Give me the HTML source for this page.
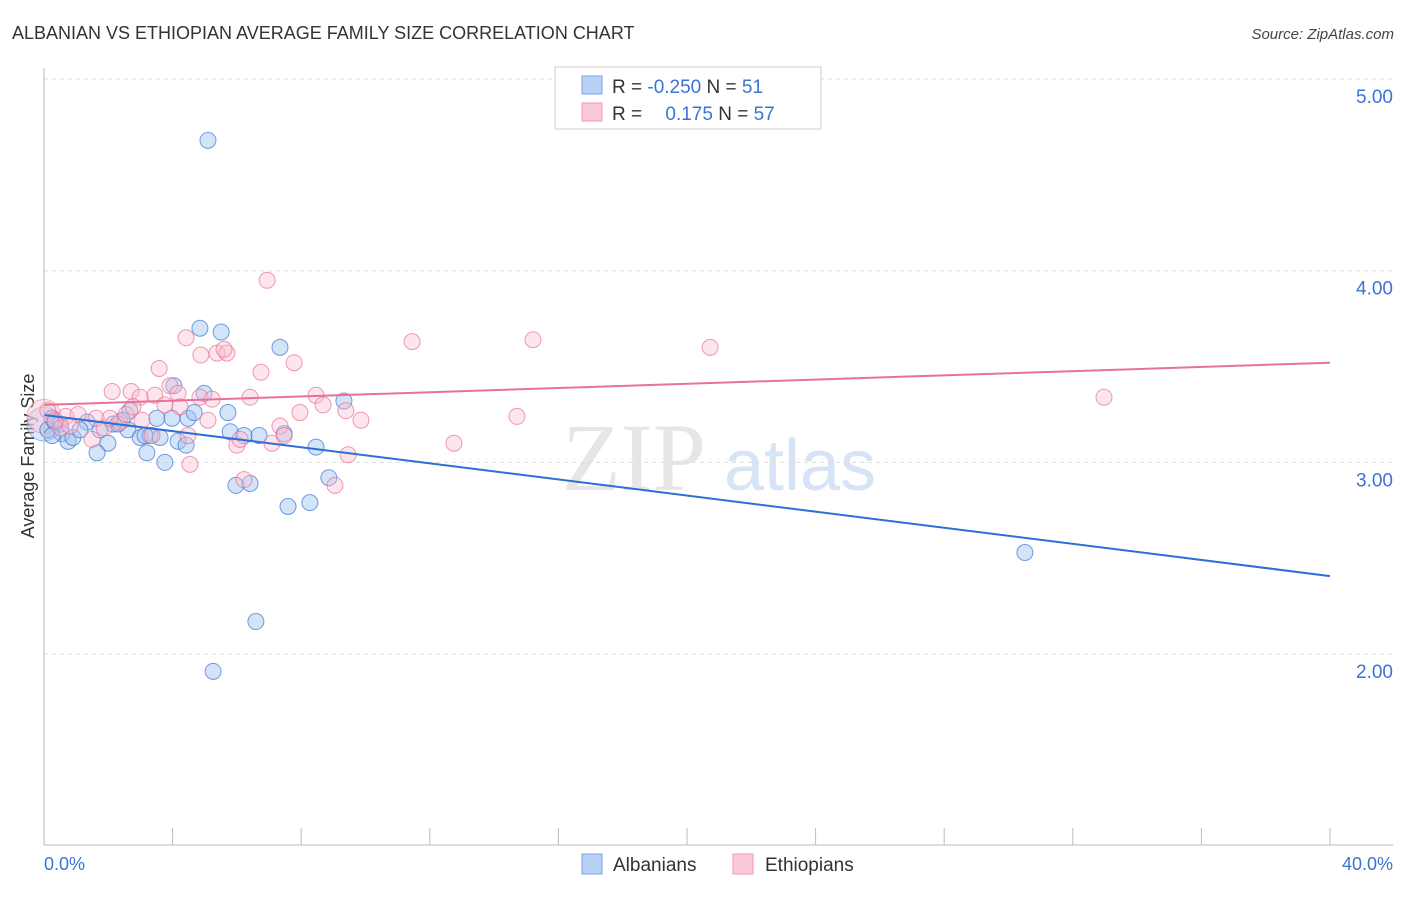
<!DOCTYPE html>
<html><head><meta charset="utf-8"><style>
body{margin:0;background:#fff;font-family:"Liberation Sans",sans-serif;}
</style></head><body>
<svg width="1406" height="892" xmlns="http://www.w3.org/2000/svg" id="c">
<text x="12" y="39" font-size="18" fill="#333">ALBANIAN VS ETHIOPIAN AVERAGE FAMILY SIZE CORRELATION CHART</text>
<text x="1394" y="39" font-size="15" fill="#444" text-anchor="end" font-style="italic">Source: ZipAtlas.com</text>
<text x="634" y="490" font-size="96" fill="#e6e6e6" font-family="Liberation Serif" text-anchor="middle">ZIP</text>
<text x="800" y="490" font-size="72" fill="#d6e4f5" text-anchor="middle">atlas</text>
<text x="34" y="456" font-size="18" fill="#333" text-anchor="middle" transform="rotate(-90 34 456)">Average Family Size</text>
<g id="grid"></g><g id="pts"></g><g id="lines"></g>
<line x1="44" y1="68" x2="44" y2="845" stroke="#bbb"/>
<line x1="44" y1="845" x2="1393" y2="845" stroke="#bbb"/>
<text x="44" y="870" font-size="18" fill="#3b73d4">0.0%</text>
<text x="1393" y="870" font-size="18" fill="#3b73d4" text-anchor="end">40.0%</text>
<g>
<rect x="555" y="67" width="266" height="62" fill="#fff" stroke="#ccc"/>
<rect x="582" y="76" width="20" height="18" fill="#b8d0f5" stroke="#7aa3e0"/>
<rect x="582" y="103" width="20" height="18" fill="#fbcad8" stroke="#ee9ab3"/>
<text x="612" y="93" font-size="19" fill="#333">R = <tspan fill="#3b73d4">-0.250</tspan>   N = <tspan fill="#3b73d4">51</tspan></text>
<text x="612" y="120" font-size="19" fill="#333">R = <tspan fill="#3b73d4" dx="18">0.175</tspan>   N = <tspan fill="#3b73d4">57</tspan></text>
</g>
<g>
<rect x="582" y="854" width="20" height="20" fill="#b8d0f5" stroke="#7aa3e0"/>
<text x="613" y="871" font-size="19" fill="#333">Albanians</text>
<rect x="733" y="854" width="20" height="20" fill="#fbcad8" stroke="#ee9ab3"/>
<text x="765" y="871" font-size="19" fill="#333">Ethiopians</text>
</g>
</svg>
<script>
const yTicks=[2,3,4,5];
const yTickLabels=["2.00","3.00","4.00","5.00"];
const blueX=[5.10,4.85,5.51,7.34,4.04,4.98,9.33,2.67,3.51,3.98,4.48,4.67,5.72,0.25,0.50,1.34,2.15,2.43,2.61,0.56,0.75,0.90,1.74,1.99,1.65,2.99,3.30,3.61,4.17,4.42,3.20,3.76,5.79,6.22,6.69,7.47,8.46,8.86,5.97,6.41,7.59,8.27,6.59,5.26,30.51,0.12,0.34,1.12,2.30,3.14,0.25];
const blueY=[4.68,3.70,3.68,3.60,3.40,3.36,3.32,3.27,3.23,3.23,3.23,3.26,3.26,3.23,3.20,3.21,3.20,3.22,3.17,3.15,3.11,3.13,3.17,3.10,3.05,3.13,3.14,3.13,3.11,3.09,3.05,3.00,3.16,3.14,3.14,3.15,3.08,2.92,2.88,2.89,2.77,2.79,2.17,1.91,2.53,3.17,3.21,3.17,3.20,3.14,3.14];
const pinkX=[6.94,4.42,4.88,5.38,5.69,5.60,7.78,11.45,15.21,20.72,3.58,6.75,2.12,2.71,2.99,3.45,3.92,4.17,4.85,5.23,6.41,8.46,8.68,9.39,9.86,32.97,14.71,12.75,9.46,9.05,6.22,4.54,6.00,7.09,7.34,7.47,0.12,0.34,0.68,1.06,1.62,1.87,2.36,2.55,3.05,3.36,4.23,5.10,4.48,0.53,1.49,0.81,2.05,2.77,3.76,6.10,7.96];
const pinkY=[3.95,3.65,3.56,3.57,3.57,3.59,3.52,3.63,3.64,3.60,3.49,3.47,3.37,3.37,3.34,3.35,3.40,3.36,3.34,3.33,3.34,3.35,3.30,3.27,3.22,3.34,3.24,3.10,3.04,2.88,2.91,2.99,3.09,3.10,3.19,3.14,3.27,3.22,3.24,3.25,3.23,3.18,3.21,3.25,3.22,3.14,3.29,3.22,3.14,3.18,3.12,3.19,3.23,3.29,3.30,3.12,3.26];
const blueTrend=[3.247,2.407];
const pinkTrend=[3.30,3.52];
const NS="http://www.w3.org/2000/svg";
const xs=v=>44+v*32.15, ys=v=>79+(5-v)*191.7;
function mk(t,a,p){const e=document.createElementNS(NS,t);for(const k in a)e.setAttribute(k,a[k]);p.appendChild(e);return e;}
const grid=document.getElementById('grid');
yTicks.forEach((t,i)=>{
 const l=mk('line',{x1:44,x2:1393,y1:ys(t),y2:ys(t),stroke:'#ddd','stroke-dasharray':'4,4'},grid);
 
 
 const tx=mk('text',{x:1393,y:ys(t)+24,'font-size':19,fill:'#3b73d4','text-anchor':'end'},grid);
 tx.textContent=yTickLabels[i];
 
 
});
for(let i=0;i<=10;i++){
 const l=mk('line',{x1:xs(i*4),x2:xs(i*4),y1:828,y2:845,stroke:'#bbb'},grid);
 
 
}
const pts=document.getElementById('pts');
const big1=mk('circle',{cx:xs(0),cy:ys(3.2),r:17,fill:'rgba(184,208,245,0.5)',stroke:'rgba(59,115,212,0.5)'},pts);


const big2=mk('circle',{cx:xs(0),cy:ys(3.24),r:17,fill:'rgba(251,202,216,0.5)',stroke:'rgba(235,110,150,0.5)'},pts);


blueX.forEach((x,i)=>{
 const c=mk('circle',{cx:xs(x),cy:ys(blueY[i]),r:8,fill:'rgba(160,195,240,0.45)',stroke:'rgba(59,115,212,0.7)','stroke-width':1},pts);
 
 
});
pinkX.forEach((x,i)=>{
 const c=mk('circle',{cx:xs(x),cy:ys(pinkY[i]),r:8,fill:'rgba(248,190,208,0.4)',stroke:'rgba(235,110,150,0.7)','stroke-width':1},pts);
 
 
});
const lines=document.getElementById('lines');
const bl=mk('line',{x1:xs(0),y1:ys(blueTrend[0]),x2:xs(40),y2:ys(blueTrend[1]),stroke:'#2c6fd6','stroke-width':2},lines);


const pl=mk('line',{x1:xs(0),y1:ys(pinkTrend[0]),x2:xs(40),y2:ys(pinkTrend[1]),stroke:'#e8719a','stroke-width':2},lines);


</script>
</body></html>
